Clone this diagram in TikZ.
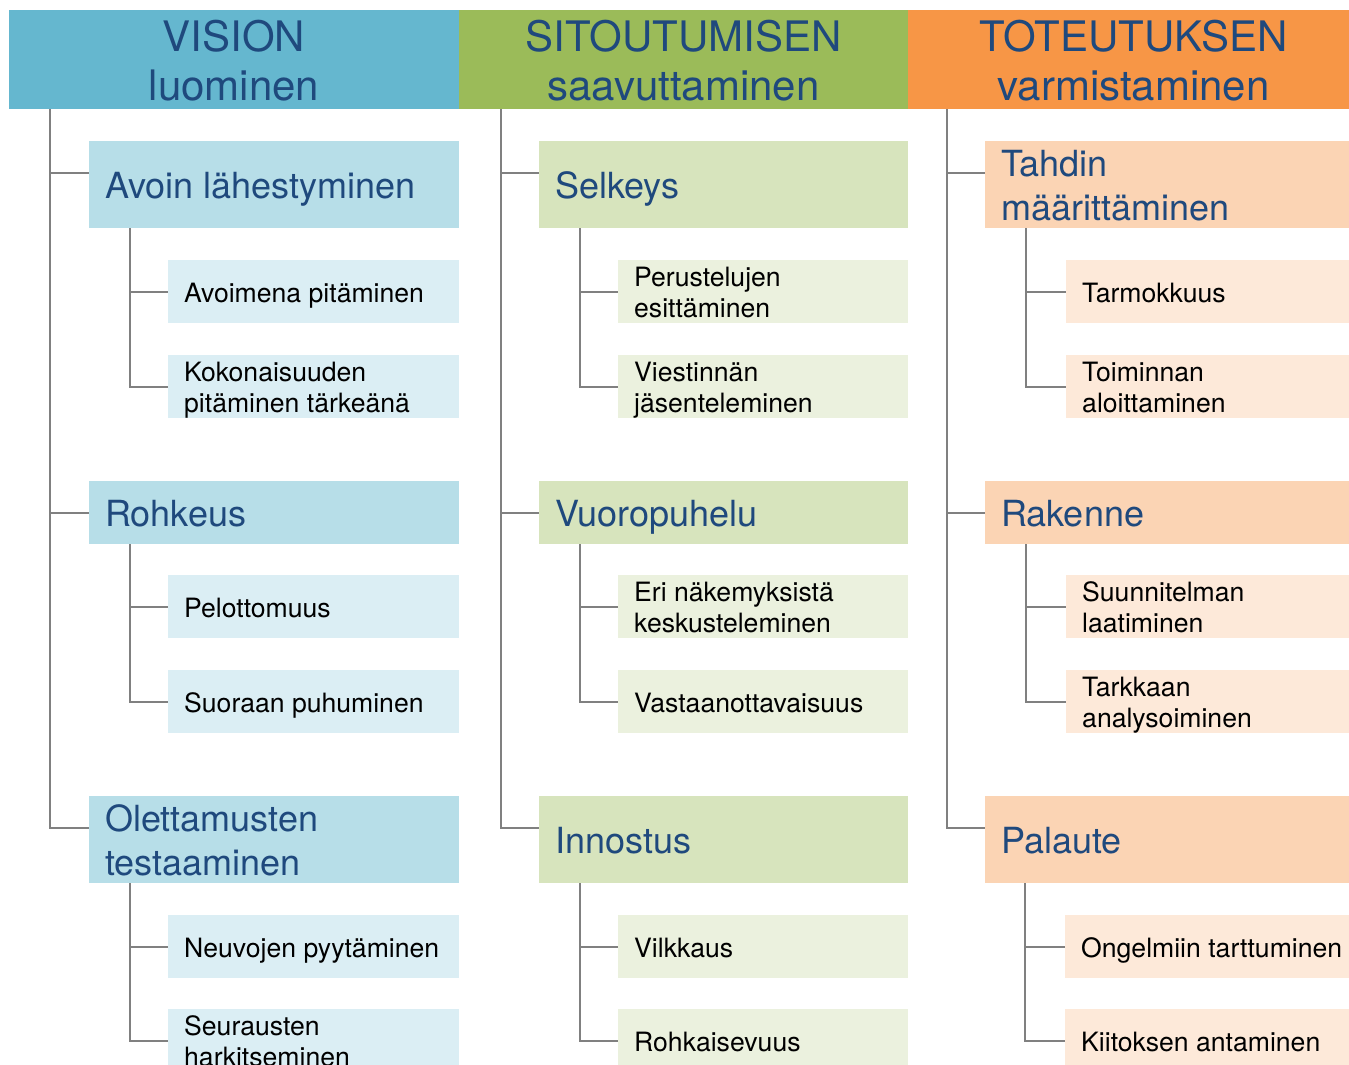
\documentclass[tikz,border=0pt]{standalone}
\usepackage{fontspec}
\setmainfont{TeX Gyre Heros}
\definecolor{hdrB}{RGB}{101,183,207}
\definecolor{lvB}{RGB}{183,222,232}
\definecolor{lwB}{RGB}{219,238,244}
\definecolor{hdrG}{RGB}{155,187,89}
\definecolor{lvG}{RGB}{215,228,189}
\definecolor{lwG}{RGB}{235,241,222}
\definecolor{hdrO}{RGB}{247,150,70}
\definecolor{lvO}{RGB}{251,212,180}
\definecolor{lwO}{RGB}{253,233,217}
\definecolor{txtB}{RGB}{31,73,125}
\definecolor{lineG}{RGB}{128,128,128}
\newcommand\topstr{\rule{0pt}{1.08em}}
\newcommand\botstr{\rule[-0.28em]{0pt}{0.28em}}
\tikzset{
 box/.style={anchor=north west, inner sep=0pt, outer sep=0pt, draw=none},
 hdrtext/.style={inner sep=0pt, align=center, text=txtB, font=\fontsize{42}{49}\selectfont},
 lvtext/.style={inner sep=0pt, align=left, text=txtB, font=\fontsize{36}{44}\selectfont},
 lwtext/.style={inner sep=0pt, align=left, text=black, font=\fontsize{26.6}{31}\selectfont},
 conn/.style={draw=lineG, line width=2pt},
}
\newcommand\mkbox[8]{%
 \node[box, fill=#3, minimum width=#6pt, minimum height=#7pt] (#1) at (#4,#5) {};
 \node[#2, anchor=west] (#1t) at ([xshift=16pt]#1.west) {\topstr #8\botstr};
 \coordinate (#1p) at ([yshift=-31.5pt]#1.north west);}
\begin{document}
\begin{tikzpicture}[x=1pt,y=-1pt]
\useasboundingbox (0,0) rectangle (1349,1065);
\clip (0,0) rectangle (1349,1065);
% headers
\node[box, fill=hdrB, minimum width=450pt, minimum height=99pt] (hv) at (9,10) {};
\node[box, fill=hdrG, minimum width=449pt, minimum height=99pt] (hs) at (459,10) {};
\node[box, fill=hdrO, minimum width=451pt, minimum height=99pt] (ht) at (908,10) {};
\node[hdrtext] (hvt) at (hv.center) {\topstr VISION\\luominen\botstr};
\node[hdrtext] (hst) at (hs.center) {\topstr SITOUTUMISEN\\saavuttaminen\botstr};
\node[hdrtext] (htt) at (ht.center) {\topstr TOTEUTUKSEN\\varmistaminen\botstr};
% column 1
\mkbox{v1}{lvtext}{lvB}{89}{141}{370}{87}{Avoin lähestyminen}
\mkbox{v1a}{lwtext}{lwB}{168}{260}{291}{63}{Avoimena pitäminen}
\mkbox{v1b}{lwtext}{lwB}{168}{355}{291}{63}{Kokonaisuuden\\pitäminen tärkeänä}
\mkbox{v2}{lvtext}{lvB}{89}{481}{370}{63}{Rohkeus}
\mkbox{v2a}{lwtext}{lwB}{168}{575}{291}{63}{Pelottomuus}
\mkbox{v2b}{lwtext}{lwB}{168}{670}{291}{63}{Suoraan puhuminen}
\mkbox{v3}{lvtext}{lvB}{89}{796}{370}{87}{Olettamusten\\testaaminen}
\mkbox{v3a}{lwtext}{lwB}{168}{915}{291}{63}{Neuvojen pyytäminen}
\mkbox{v3b}{lwtext}{lwB}{168}{1009}{291}{63}{Seurausten\\harkitseminen}
% column 2
\mkbox{s1}{lvtext}{lvG}{539}{141}{369}{87}{Selkeys}
\mkbox{s1a}{lwtext}{lwG}{618}{260}{290}{63}{Perustelujen\\esittäminen}
\mkbox{s1b}{lwtext}{lwG}{618}{355}{290}{63}{Viestinnän\\jäsenteleminen}
\mkbox{s2}{lvtext}{lvG}{539}{481}{369}{63}{Vuoropuhelu}
\mkbox{s2a}{lwtext}{lwG}{618}{575}{290}{63}{Eri näkemyksistä\\keskusteleminen}
\mkbox{s2b}{lwtext}{lwG}{618}{670}{290}{63}{Vastaanottavaisuus}
\mkbox{s3}{lvtext}{lvG}{539}{796}{369}{87}{Innostus}
\mkbox{s3a}{lwtext}{lwG}{618}{915}{290}{63}{Vilkkaus}
\mkbox{s3b}{lwtext}{lwG}{618}{1009}{290}{63}{Rohkaisevuus}
% column 3
\mkbox{t1}{lvtext}{lvO}{985}{141}{374}{87}{Tahdin\\määrittäminen}
\mkbox{t1a}{lwtext}{lwO}{1066}{260}{293}{63}{Tarmokkuus}
\mkbox{t1b}{lwtext}{lwO}{1066}{355}{293}{63}{Toiminnan\\aloittaminen}
\mkbox{t2}{lvtext}{lvO}{985}{481}{374}{63}{Rakenne}
\mkbox{t2a}{lwtext}{lwO}{1066}{575}{293}{63}{Suunnitelman\\laatiminen}
\mkbox{t2b}{lwtext}{lwO}{1066}{670}{293}{63}{Tarkkaan\\analysoiminen}
\mkbox{t3}{lvtext}{lvO}{985}{796}{374}{87}{Palaute}
\mkbox{t3a}{lwtext}{lwO}{1065}{915}{294}{63}{Ongelmiin tarttuminen}
\mkbox{t3b}{lwtext}{lwO}{1065}{1009}{294}{63}{Kiitoksen antaminen}
% main trunks
\foreach \nm/\hd/\dd in {v/hv/39, s/hs/38, t/ht/38}{
 \coordinate (\nm tr) at ([xshift=-\dd pt]\nm 1.west);
 \draw[conn] (\nm tr |- \hd.south) |- (\nm 3p);
 \draw[conn] (\nm tr |- \nm 1p) -- (\nm 1p);
 \draw[conn] (\nm tr |- \nm 2p) -- (\nm 2p);
}
% sub trunks
\foreach \nm/\dd in {v1/38,v2/38,v3/38,s1/38,s2/38,s3/38,t1/40,t2/40,t3/40}{
 \coordinate (\nm s) at ([xshift=-\dd pt]\nm a.west);
 \draw[conn] (\nm s |- \nm.south) |- (\nm bp);
 \draw[conn] (\nm s |- \nm ap) -- (\nm ap);
}
\end{tikzpicture}
\end{document}
